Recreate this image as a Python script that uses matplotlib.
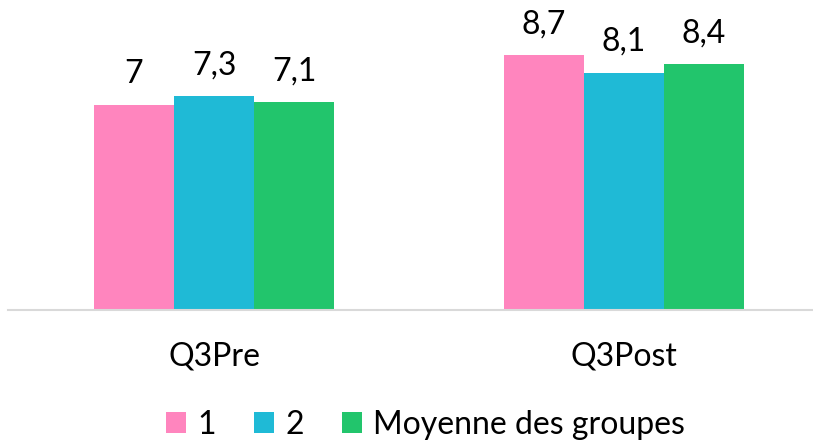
import matplotlib
matplotlib.use("Agg")
import matplotlib.pyplot as plt
from matplotlib.patches import Patch
import numpy as np

categories = ["Q3Pre", "Q3Post"]
series_names = ["1", "2", "Moyenne des groupes"]
values_1 = [7.0, 8.7]
values_2 = [7.3, 8.1]
values_moy = [7.1, 8.4]
colors = ["#FF85BE", "#1FBAD6", "#22C56C"]

plt.rcParams['font.family'] = ['Lato', 'DejaVu Sans']
FS = 23

W, H = 813, 444
fig = plt.figure(figsize=(W / 100, H / 100), dpi=100)
ax_left = 8 / W
ax_bottom = (H - 309.5) / H
ax_top = (H - 17.5) / H
ax = fig.add_axes([ax_left, ax_bottom, 1 - ax_left, ax_top - ax_bottom])

x = np.arange(len(categories))
bw = 80 / 410
all_vals = [values_1, values_2, values_moy]
for i, (vals, col, name) in enumerate(zip(all_vals, colors, series_names)):
    bars = ax.bar(x + (i - 1) * bw, vals, width=bw, color=col, label=name, zorder=2)
    for b, v in zip(bars, vals):
        lab = f"{v:.1f}".replace(".", ",")
        if lab.endswith(",0"):
            lab = lab[:-2]
        ax.annotate(lab, (b.get_x() + b.get_width() / 2, b.get_height()),
                    xytext=(0, 22), textcoords='offset pixels',
                    ha='center', va='baseline', fontsize=FS, color='#000000',
                    annotation_clip=False)

ax.set_xlim((8 - 214) / 410, (813 - 214) / 410)
ax.set_ylim(0, 10)
ax.set_yticks([])
for s in ['top', 'left', 'right']:
    ax.spines[s].set_visible(False)
ax.spines['bottom'].set_color('#D9D9D9')
ax.spines['bottom'].set_linewidth(1.5)
ax.set_xticks(x)
ax.set_xticklabels(categories, fontsize=FS, va='baseline')
ax.tick_params(axis='x', length=0, pad=56.5 * 0.72)

handles = [Patch(facecolor=c, edgecolor='none') for c in colors]
hl = 20 / (FS * 100 / 72)
fig.legend(handles, series_names, loc='center', bbox_to_anchor=(425.5 / W, 19 / H),
           ncol=3, frameon=False, fontsize=FS, handlelength=hl, handleheight=hl,
           handletextpad=0.35, columnspacing=1.2, borderpad=0, borderaxespad=0)

fig.savefig("out.png", dpi=100)
